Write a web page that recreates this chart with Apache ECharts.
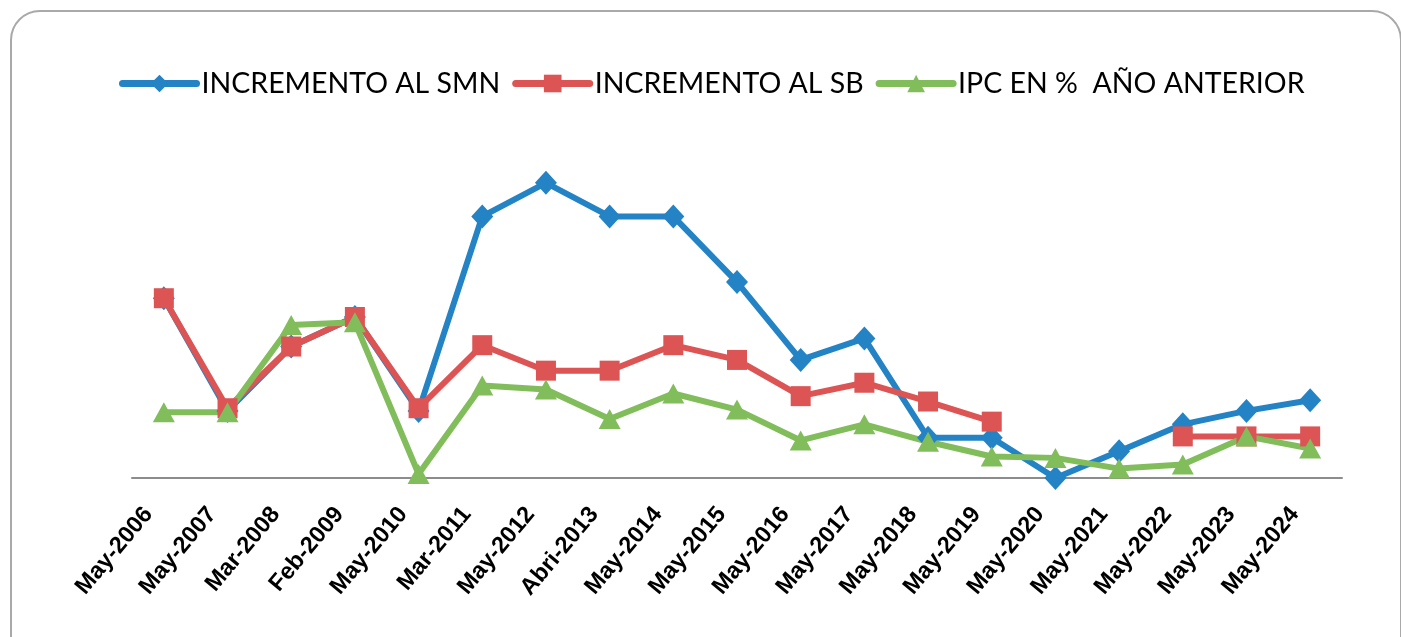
<!DOCTYPE html>
<html>
<head>
<meta charset="utf-8">
<script src="https://cdn.jsdelivr.net/npm/echarts@6/dist/echarts.min.js"></script>
<style>
  html, body { margin: 0; padding: 0; background: #fff; }
  #frame {
    position: absolute; left: 10px; top: 10px; width: 1392px; height: 660px;
    border: 2px solid #a9a9a9; border-radius: 30px; box-sizing: border-box;
  }
  #chart { position: absolute; left: 0; top: 0; width: 1401px; height: 637px; }
</style>
</head>
<body>
<div id="frame"></div>
<div id="chart"></div>
<script>
  // fechas de incremento
  const categories = ['May-2006', 'May-2007', 'Mar-2008', 'Feb-2009', 'May-2010', 'Mar-2011', 'May-2012',
    'Abri-2013', 'May-2014', 'May-2015', 'May-2016', 'May-2017', 'May-2018', 'May-2019', 'May-2020',
    'May-2021', 'May-2022', 'May-2023', 'May-2024'];

  const smn = [13.4, 5.0, 9.8, 12.0, 5.0, 19.5, 22.0, 19.5, 19.5, 14.6, 8.8, 10.4, 3.0, 3.0, 0, 2.0, 4.0, 5.0, 5.8];
  const sb = [13.4, 5.2, 9.8, 12.0, 5.2, 9.9, 8.0, 8.0, 9.9, 8.8, 6.1, 7.1, 5.7, 4.2, null, null, 3.1, 3.1, 3.1];
  const ipc = [4.9, 4.9, 11.4, 11.6, 0.3, 6.9, 6.6, 4.4, 6.3, 5.1, 2.8, 4.0, 2.7, 1.6, 1.5, 0.7, 1.0, 3.1, 2.2];

  const chart = echarts.init(document.getElementById('chart'));
  chart.setOption({
    animation: false,
    legend: {
      top: 64,
      left: 114,
      itemWidth: 74,
      itemHeight: 22,
      itemGap: 12,
      lineStyle: { width: 7, cap: 'round' },
      textStyle: { fontFamily: 'Lato', fontSize: 28.5, color: '#000' },
      data: ['INCREMENTO AL SMN', 'INCREMENTO AL SB', 'IPC EN %  AÑO ANTERIOR']
    },
    grid: { left: 132, right: 59, top: 156, bottom: 159 },
    xAxis: {
      type: 'category',
      data: categories,
      axisLine: { lineStyle: { color: '#8c8c8c', width: 2 } },
      axisTick: { show: false },
      axisLabel: {
        rotate: 50,
        margin: 14,
        padding: [0, 24, 0, 0],
        interval: 0,
        fontFamily: 'Liberation Sans',
        fontWeight: 'bold',
        fontSize: 23.5,
        color: '#000'
      }
    },
    yAxis: {
      type: 'value',
      min: 0,
      max: 24,
      show: false
    },
    series: [
      {
        name: 'INCREMENTO AL SMN', type: 'line', data: smn,
        symbol: 'diamond', symbolSize: [22, 24],
        lineStyle: { width: 6, color: '#2383c4' },
        itemStyle: { color: '#2383c4' }
      },
      {
        name: 'INCREMENTO AL SB', type: 'line', data: sb,
        symbol: 'rect', symbolSize: 20,
        lineStyle: { width: 6, color: '#dc5454' },
        itemStyle: { color: '#dc5454' }
      },
      {
        name: 'IPC EN %  AÑO ANTERIOR', type: 'line', data: ipc,
        symbol: 'triangle', symbolSize: [22, 20],
        lineStyle: { width: 6, color: '#82bd5c' },
        itemStyle: { color: '#82bd5c' }
      }
    ]
  });
</script>
</body>
</html>
